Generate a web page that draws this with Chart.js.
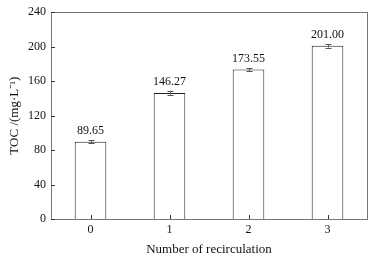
<!DOCTYPE html>
<html>
<head>
<meta charset="utf-8">
<script src="https://cdn.jsdelivr.net/npm/chart.js@4"></script>
<style>
  html, body { margin: 0; padding: 0; background: #fff; }
  #wrap { width: 378px; height: 260px; }
</style>
</head>
<body>
<div id="wrap"><canvas id="chart" width="378" height="260"></canvas></div>
<script>
const categories = ['0', '1', '2', '3'];
const tocValues = [89.65, 146.27, 173.55, 201.00];
const tocErrors = [2.0, 2.0, 1.5, 2.0];
const valueLabels = ['89.65', '146.27', '173.55', '201.00'];
const yTicks = [0, 40, 80, 120, 160, 200, 240];

const serif = 'Liberation Serif';

// frame, inward ticks, error bars and value labels
const extras = {
    id: 'extras',
    afterDatasetsDraw(chart) {
        const ctx = chart.ctx;
        const a = chart.chartArea;
        const x = chart.scales.x;
        const y = chart.scales.y;
        ctx.save();
        ctx.strokeStyle = '#777';
        ctx.lineWidth = 1;
        ctx.strokeRect(Math.round(a.left) + 0.5, Math.round(a.top) + 0.5,
            Math.round(a.right - a.left), Math.round(a.bottom - a.top));

        ctx.strokeStyle = '#333';
        ctx.beginPath();
        yTicks.forEach(v => {
            const py = Math.round(y.getPixelForValue(v)) + 0.5;
            ctx.moveTo(a.left, py);
            ctx.lineTo(a.left + 4, py);
        });
        categories.forEach((c, i) => {
            const px = Math.round(x.getPixelForValue(i)) + 0.5;
            ctx.moveTo(px, a.bottom);
            ctx.lineTo(px, a.bottom - 4);
        });
        ctx.stroke();

        const meta = chart.getDatasetMeta(0);
        ctx.strokeStyle = '#555';
        ctx.font = '12px "' + serif + '"';
        ctx.fillStyle = '#111';
        ctx.textAlign = 'center';
        ctx.textBaseline = 'bottom';
        meta.data.forEach((bar, i) => {
            const px = Math.round(bar.x) + 0.5;
            const hi = y.getPixelForValue(tocValues[i] + tocErrors[i]);
            const lo = y.getPixelForValue(tocValues[i] - tocErrors[i]);
            ctx.beginPath();
            ctx.moveTo(px, hi); ctx.lineTo(px, lo);
            ctx.moveTo(px - 3, Math.round(hi) + 0.5); ctx.lineTo(px + 3, Math.round(hi) + 0.5);
            ctx.moveTo(px - 3, Math.round(lo) + 0.5); ctx.lineTo(px + 3, Math.round(lo) + 0.5);
            ctx.stroke();
            ctx.fillText(valueLabels[i], bar.x, hi - 3);
        });
        ctx.restore();
    }
};

const chart = new Chart(document.getElementById('chart'), {
    type: 'bar',
    data: {
        labels: categories,
        datasets: [{
            data: tocValues,
            backgroundColor: '#ffffff',
            borderColor: '#222',
            borderWidth: 1,
            categoryPercentage: 1,
            barPercentage: 0.4
        }]
    },
    options: {
        responsive: false,
        animation: false,
        layout: { padding: { top: 11, right: 11, left: 0, bottom: 0 } },
        plugins: { legend: { display: false }, tooltip: { enabled: false } },
        scales: {
            x: {
                grid: { display: false, drawTicks: false },
                border: { display: false },
                ticks: { color: '#111', padding: 4, font: { family: serif, size: 12 } },
                title: {
                    display: true,
                    text: 'Number of recirculation',
                    color: '#111',
                    padding: { top: 0, bottom: 3 },
                    font: { family: serif, size: 13 }
                },
                afterFit(s) { s.height = 41; }
            },
            y: {
                min: 0,
                max: 240,
                grid: { display: false, drawTicks: false },
                border: { display: false },
                ticks: { stepSize: 40, color: '#111', padding: 5, font: { family: serif, size: 12 } },
                title: {
                    display: true,
                    text: 'TOC /(mg·L⁻¹)',
                    color: '#111',
                    padding: { top: 7, bottom: 0 },
                    font: { family: serif, size: 13 }
                },
                afterFit(s) { s.width = 51; }
            }
        }
    },
    plugins: [extras]
});
</script>
</body>
</html>
